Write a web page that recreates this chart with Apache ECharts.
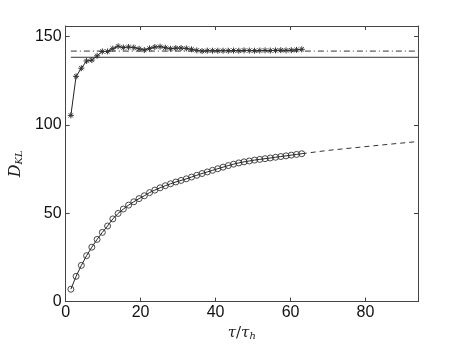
<!DOCTYPE html>
<html><head><meta charset="utf-8">
<script src="https://cdn.jsdelivr.net/npm/echarts@6/dist/echarts.min.js"></script>
<style>html,body{margin:0;padding:0;background:#fff}#c{width:461px;height:346px}</style>
</head><body><div id="c"></div>
<script>
var tau = [1.4,2.8,4.2,5.6,7.0,8.4,9.8,11.2,12.6,14.0,15.4,16.8,18.2,19.6,21.0,22.4,23.8,25.2,26.6,28.0,29.4,30.8,32.2,33.6,35.0,36.4,37.8,39.2,40.6,42.0,43.4,44.8,46.2,47.6,49.0,50.4,51.8,53.2,54.6,56.0,57.4,58.8,60.2,61.6,63.0];
var starVals = [105.4,127.5,132.1,136.2,136.7,139.1,141.6,141.6,143.2,144.5,143.8,144.1,143.8,143.1,142.4,143.3,144.1,144.3,143.7,143.1,143.5,143.5,143.3,142.8,142.2,141.8,142.0,142.0,142.0,142.0,142.0,142.1,142.0,142.2,142.1,142.0,142.1,142.2,142.1,142.2,142.3,142.2,142.3,142.5,142.8];
var circleVals = [7.0,14.3,20.5,26.0,30.8,35.2,39.2,42.8,46.8,49.9,52.4,54.6,56.5,58.3,59.9,61.7,63.1,64.4,65.6,66.7,67.7,68.6,69.5,70.5,71.5,72.5,73.4,74.3,75.2,76.1,77.0,77.8,78.5,79.1,79.6,80.1,80.5,80.9,81.3,81.7,82.1,82.5,82.9,83.3,83.7];
var extTau = [63,70,78,86,94];
var extVals = [83.7,85.6,87.3,89.0,90.6];
var refTau = [1.4,94];
var dashDotLevel = [141.8,141.8];
var solidLevel = [138.3,138.3];
var xTicks = [0,20,40,60,80];
var yTicks = [0,50,100,150];

function zip(a,b){return a.map(function(v,i){return [v,b[i]];});}
var star = 'path://M0,-1L0,1M-1,0L1,0M-0.7,-0.7L0.7,0.7M-0.7,0.7L0.7,-0.7';
var axisCol = '#444';
var chart = echarts.init(document.getElementById('c'), null, {renderer:'canvas'});
var commonAxisLine = {onZero:false,lineStyle:{color:axisCol,width:1}};
chart.setOption({
  animation:false,
  grid:{left:60,right:43,top:26,bottom:39},
  xAxis:[{
    type:'value',min:0,max:94,interval:20,position:'bottom',
    name:'{i|τ}{n|/}{i|τ}{s|h}',nameLocation:'middle',nameGap:20,
    nameTextStyle:{rich:{
      i:{fontFamily:'DejaVu Serif',fontStyle:'italic',fontSize:15,color:'#222'},
      n:{fontFamily:'DejaVu Serif',fontSize:15,color:'#222'},
      s:{fontFamily:'DejaVu Serif',fontStyle:'italic',fontSize:10,color:'#222',verticalAlign:'bottom',padding:[6,0,0,0]}
    }},
    axisLine:commonAxisLine,splitLine:{show:false},
    axisTick:{inside:true,length:4,lineStyle:{color:axisCol}},
    axisLabel:{fontFamily:'Liberation Sans',fontSize:16,color:'#111',margin:3,
      formatter:function(v){return xTicks.indexOf(v)>=0?String(v):'';}}
  },{
    type:'value',min:0,max:94,interval:20,position:'top',
    axisLine:commonAxisLine,splitLine:{show:false},
    axisTick:{inside:true,length:4,lineStyle:{color:axisCol}},
    axisLabel:{show:false}
  }],
  yAxis:[{
    type:'value',min:0,max:156,interval:50,position:'left',
    name:'{i|D}{s|KL}',nameLocation:'middle',nameGap:34,nameRotate:90,
    nameTextStyle:{rich:{
      i:{fontFamily:'DejaVu Serif',fontStyle:'italic',fontSize:16,color:'#222'},
      s:{fontFamily:'DejaVu Serif',fontStyle:'italic',fontSize:10,color:'#222',padding:[6,0,0,0]}
    }},
    axisLine:commonAxisLine,splitLine:{show:false},
    axisTick:{inside:true,length:4,lineStyle:{color:axisCol}},
    axisLabel:{fontFamily:'Liberation Sans',fontSize:16,color:'#111',margin:4,
      formatter:function(v){return yTicks.indexOf(v)>=0?String(v):'';}}
  },{
    type:'value',min:0,max:156,interval:50,position:'right',
    axisLine:commonAxisLine,splitLine:{show:false},
    axisTick:{inside:true,length:4,lineStyle:{color:axisCol}},
    axisLabel:{show:false}
  }],
  series:[
    {type:'line',data:zip(refTau,solidLevel),symbol:'none',lineStyle:{color:'#333',width:1},z:1},
    {type:'line',data:zip(refTau,dashDotLevel),symbol:'none',lineStyle:{color:'#333',width:1,type:[6,3,1,3]},z:1},
    {type:'line',data:zip(extTau,extVals),symbol:'none',lineStyle:{color:'#333',width:1,type:[5,4]},z:1},
    {type:'line',data:zip(tau,circleVals),symbol:'circle',symbolSize:6,showAllSymbol:true,
      lineStyle:{color:'#222',width:1},itemStyle:{color:'rgba(255,255,255,0)',borderColor:'#333',borderWidth:0.9},z:3},
    {type:'line',data:zip(tau,starVals),symbol:star,symbolSize:6,showAllSymbol:true,
      lineStyle:{color:'#222',width:1},itemStyle:{color:'#333',borderColor:'#333',borderWidth:1},z:3}
  ]
});
</script></body></html>
